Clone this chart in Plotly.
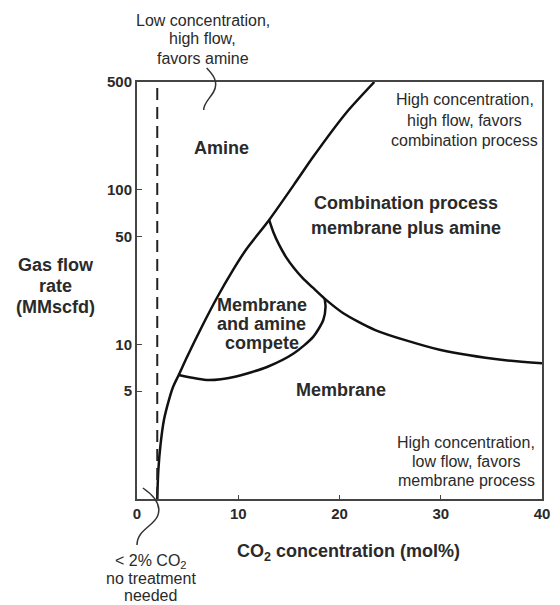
import math
import plotly.graph_objects as go

# ---- data ----
boundary_x = [1.995, 2.11, 2.32, 2.66, 3.15, 3.56, 4.12, 4.94, 6.39, 7.94, 9.49, 10.75, 13.05, 15.82, 17.40, 20.63, 23.44]
boundary_y = [1.0, 1.54, 2.24, 3.25, 4.37, 5.31, 6.35, 8.30, 12.98, 20.3, 30.4, 40.9, 64.0, 116, 164, 314, 500]

combo_x = [13.05, 13.46, 14.04, 14.72, 15.50, 16.37, 17.34, 18.53, 20.34, 23.53, 30.0, 36.4, 40.0]
combo_y = [64.0, 53.5, 44.1, 36.8, 31.3, 26.9, 23.4, 19.8, 16.0, 12.4, 9.2, 7.9, 7.55]

compete_x = [4.12, 7.07, 9.68, 12.9, 15.5, 17.4, 18.4, 18.62, 18.53]
compete_y = [6.35, 5.89, 6.19, 7.18, 8.77, 11.2, 14.4, 17.5, 19.8]

no_treat_x = [2.0, 2.0]
no_treat_y = [1.0, 500.0]

x_ticks = [0, 10, 20, 30, 40]
y_ticks = [5, 10, 50, 100, 500]

# ---- layout geometry (page has an 8px body margin) ----
OFF = 8
W, H = 560 - OFF, 605 - OFF
PX0, PY0, PW, PH = 137, 82, 413, 417   # plot area in screen pixels
L, T = PX0 - OFF, PY0 - OFF
R, B = W - L - PW, H - T - PH


def xp(px):
    return (px - PX0) / PW


def yp(py):
    return (PY0 + PH - py) / PH


LINE = "#111111"
TXT = "#2a2a2a"
FONT = "Liberation Sans, Arial, sans-serif"

fig = go.Figure()
for xs, ys in [(boundary_x, boundary_y), (combo_x, combo_y), (compete_x, compete_y)]:
    fig.add_trace(go.Scatter(x=xs, y=ys, mode="lines",
                             line=dict(color=LINE, width=2.5, shape="spline", smoothing=0.7),
                             hoverinfo="skip", showlegend=False))
fig.add_trace(go.Scatter(x=no_treat_x, y=no_treat_y, mode="lines",
                         line=dict(color="#222222", width=2, dash="12px,7px"),
                         hoverinfo="skip", showlegend=False))

ann = []


def label(lines, cx, ys, size, bold=False):
    for t, y in zip(lines, ys):
        ann.append(dict(text=f"<b>{t}</b>" if bold else t, x=xp(cx), y=yp(y),
                        xref="paper", yref="paper", xanchor="center", yanchor="middle",
                        showarrow=False, font=dict(family=FONT, size=size, color=TXT)))


label(["Low concentration,", "high flow,", "favors amine"], 204, [20, 39, 59], 16)
label(["High concentration,", "high flow, favors", "combination process"], 471, [100, 120, 140], 16)
label(["High concentration,", "low flow, favors", "membrane process"], 473, [442, 461, 480], 16)
label(["&lt; 2% CO<sub>2</sub>", "no treatment", "needed"], 151, [561, 578, 595], 16)
label(["Amine"], 223, [148], 18, True)
label(["Combination process", "membrane plus amine"], 411, [203, 228], 18, True)
label(["Membrane", "and amine", "compete"], 264, [305, 324, 343], 18, True)
label(["Membrane"], 345, [390], 18, True)
label(["Gas flow", "rate", "(MMscfd)"], 54, [265, 286, 307], 18, True)
label(["CO<sub>2</sub> concentration (mol%)"], 353, [552], 18, True)


def squiggle(pts):
    d = "M {} {}".format(xp(pts[0][0]), yp(pts[0][1]))
    for i in range(1, len(pts), 3):
        seg = pts[i:i + 3]
        d += " C " + " ".join("{} {}".format(xp(a), yp(b)) for a, b in seg)
    return dict(type="path", path=d, xref="paper", yref="paper",
                line=dict(color="#333333", width=1.5))


shapes = [
    squiggle([(208, 68), (214, 74), (221, 82), (215, 92), (211, 99), (205, 103), (205, 110)]),
    squiggle([(143, 488), (152, 494), (163, 504), (158, 516), (154, 526), (137, 530), (137, 545)]),
]

axis_common = dict(showline=True, mirror=True, linecolor="#444444", linewidth=2,
                   ticks="inside", tickcolor="#444444", showgrid=False, zeroline=False,
                   tickfont=dict(family=FONT, size=15, color=TXT))

fig.update_layout(
    width=W, height=H,
    margin=dict(l=L, r=R, t=T, b=B),
    paper_bgcolor="white", plot_bgcolor="white",
    xaxis=dict(range=[0, 40], tickvals=x_ticks, ticktext=[f"<b>{v}</b>" for v in x_ticks],
               ticklen=4, **axis_common),
    yaxis=dict(type="log", range=[0, math.log10(500)], tickvals=y_ticks,
               ticktext=[f"<b>{v}</b>" for v in y_ticks], ticklen=5, **axis_common),
    annotations=ann, shapes=shapes, showlegend=False,
)

fig.write_html("out.html")
